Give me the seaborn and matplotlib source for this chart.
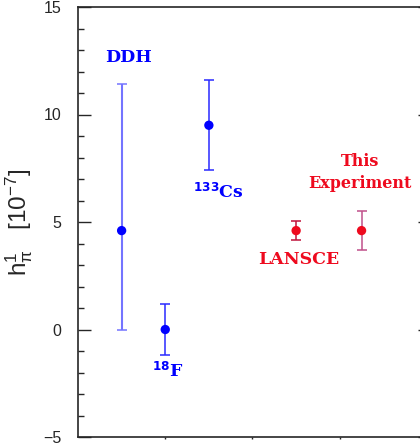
import numpy as np
import pandas as pd
import matplotlib.pyplot as plt
import seaborn as sns

# measurements of h1_pi (units of 1e-7)
labels   = ['DDH', '18F', '133Cs', 'LANSCE', 'This Experiment']
xpos     = [1.0, 2.0, 3.0, 5.0, 6.5]
values   = [4.6, 0.0, 9.5, 4.6, 4.6]
err_low  = [4.6, 1.2, 2.1, 0.45, 0.9]
err_high = [6.8, 1.2, 2.1, 0.45, 0.9]

point_colors = ['#0000ff', '#0000ff', '#0000ff', '#ee0a1e', '#ee0a1e']
bar_colors   = ['#7474ff', '#2a2aff', '#2a2aff', '#c0143c', '#c0508a']
bar_widths   = [1.5, 1.1, 1.1, 1.1, 1.1]

df = pd.DataFrame({'label': labels, 'x': xpos, 'y': values,
                   'lo': err_low, 'hi': err_high})

sns.set_style('ticks')
plt.rcParams['font.family'] = ['Liberation Sans', 'DejaVu Sans']
plt.rcParams['mathtext.default'] = 'regular'

fig = plt.figure(figsize=(4.2, 4.46), dpi=100)
# right spine sits just outside the picture, like the original
ax = fig.add_axes([78 / 420, 9 / 446, 352 / 420, 430 / 446])

for i, row in df.iterrows():
    ax.errorbar(row['x'], row['y'], yerr=[[row['lo']], [row['hi']]],
                fmt='none', ecolor=bar_colors[i], elinewidth=bar_widths[i],
                capsize=3.5, capthick=1.1, zorder=2)

sns.scatterplot(data=df, x='x', y='y', hue='label', palette=point_colors,
                s=45, edgecolor='none', legend=False, ax=ax, zorder=3)

serif = dict(family='DejaVu Serif', fontweight='bold', fontsize=12.5,
             ha='center', va='center')
ax.text(1.15, 12.65, 'DDH', color='#0000ff', **serif)
ax.text(2.06, -1.95, r'$^{\mathbf{18}}$F', color='#0000ff', **serif)
ax.text(3.23, 6.4, r'$^{\mathbf{133}}$Cs', color='#0000ff', **serif)
ax.text(5.07, 3.26, 'LANSCE', color='#ee0a1e', **serif)
ax.text(6.47, 7.3, 'This\nExperiment', color='#ee0a1e', linespacing=1.4,
        **dict(serif, fontsize=11.5))

ax.set_xlim(0, 8 * 352 / 349)
ax.set_ylim(-5, 15)
ax.set_yticks([-5, 0, 5, 10, 15])
ax.set_yticks(np.arange(-5, 16, 1), minor=True)
ax.set_xticks([2, 4, 6])
ax.set_xticklabels([])
ax.tick_params(axis='y', which='major', direction='in', length=9, width=1,
               right=True, labelsize=11.5, pad=12)
ax.tick_params(axis='y', which='minor', direction='in', length=4.5,
               width=1, right=True)
ax.tick_params(axis='x', which='major', direction='out', length=1.5,
               width=1)
for s in ax.spines.values():
    s.set_linewidth(1.2)

ax.set_xlabel('')
ax.set_ylabel(r'h$^1_\pi$   [10$^{-7}$]', fontsize=17.5, labelpad=6)

plt.savefig('out.png', dpi=100)
